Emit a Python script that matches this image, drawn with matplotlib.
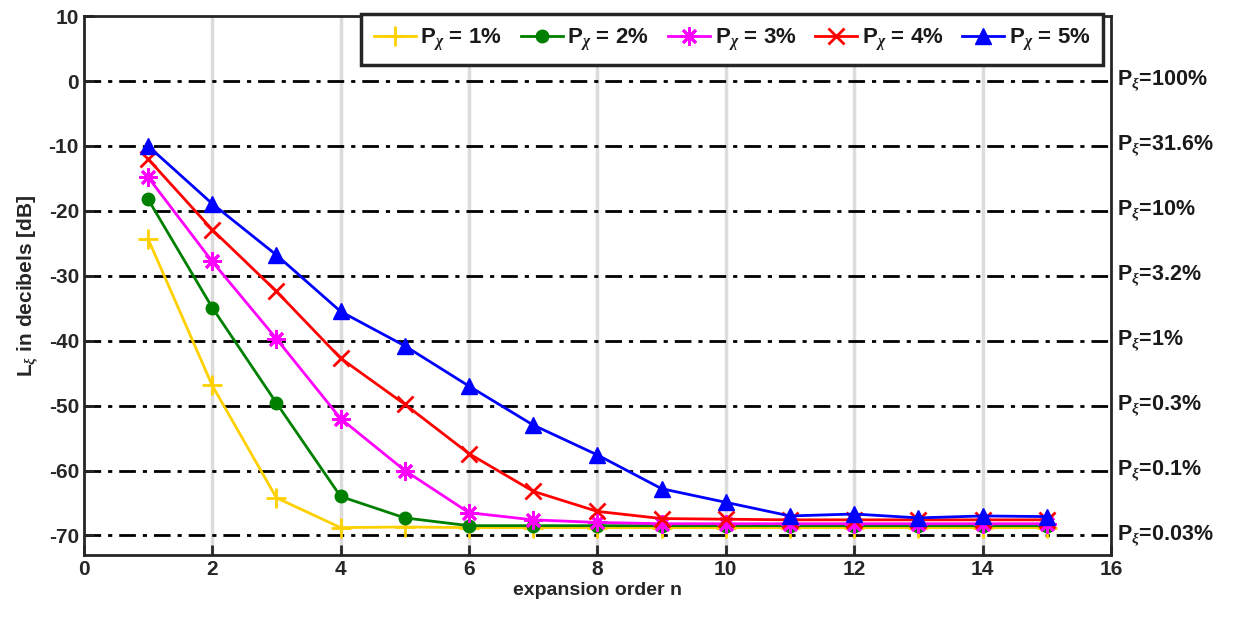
import matplotlib
matplotlib.use("Agg")
import matplotlib.pyplot as plt
import numpy as np

plt.rcParams['font.family'] = ['Liberation Sans', 'DejaVu Sans']
plt.rcParams['font.weight'] = 'bold'
plt.rcParams['axes.unicode_minus'] = False
plt.rcParams['mathtext.fontset'] = 'custom'
plt.rcParams['mathtext.rm'] = 'Liberation Sans:bold'
plt.rcParams['mathtext.it'] = 'Liberation Serif:italic'
plt.rcParams['text.color'] = '#1a1a1a'

n = list(range(1, 16))
p1 = [-24.3, -46.9, -64.2, -68.8, -68.7, -68.8, -68.8, -68.8, -68.8, -68.8, -68.8, -68.8, -68.8, -68.8, -68.8]
p2 = [-18.2, -34.9, -49.6, -64.0, -67.3, -68.5, -68.5, -68.5, -68.5, -68.5, -68.5, -68.5, -68.5, -68.5, -68.5]
p3 = [-14.8, -27.8, -39.7, -52.0, -60.0, -66.5, -67.6, -68.0, -68.2, -68.2, -68.2, -68.2, -68.2, -68.2, -68.2]
p4 = [-12.0, -22.9, -32.4, -42.7, -49.8, -57.4, -63.2, -66.3, -67.4, -67.5, -67.6, -67.6, -67.6, -67.6, -67.6]
p5 = [-10.0, -18.9, -26.8, -35.5, -40.8, -47.0, -53.0, -57.6, -62.8, -64.9, -67.0, -66.7, -67.3, -67.0, -67.1]

series = [p1, p2, p3, p4, p5]
labels = [r'P$_{\chi}$ = 1%', r'P$_{\chi}$ = 2%', r'P$_{\chi}$ = 3%', r'P$_{\chi}$ = 4%', r'P$_{\chi}$ = 5%']
colors = ['#FFD000', '#008000', '#FF00FF', '#FF0000', '#0000FF']
markers = ['+', 'o', (8, 2, 0), 'x', '^']
msizes = [14, 9, 13, 11, 11]

levels = [0, -10, -20, -30, -40, -50, -60, -70]
level_labels = ['100%', '31.6%', '10%', '3.2%', '1%', '0.3%', '0.1%', '0.03%']

fig = plt.figure(figsize=(12.33, 6.2), dpi=100)
ax = fig.add_axes([0.068, 0.105, 0.833, 0.869])

for x in range(2, 16, 2):
    ax.axvline(x, color='#dcdcdc', lw=2.5, zorder=0)
for y in levels:
    ax.axhline(y, color='black', lw=2, linestyle=(0, (6, 2.5, 1.5, 2.5)), zorder=1)

for s, lab, c, m, ms in zip(series, labels, colors, markers, msizes):
    mew = 2 if m in ('+', 'x') or isinstance(m, tuple) else 1
    ax.plot(n, s, color=c, marker=m, markersize=ms, lw=2, label=lab, mew=mew, zorder=3)

ax.set_xlim(0, 16)
ax.set_ylim(-73, 10)
ax.set_xticks(range(0, 17, 2))
ax.set_yticks(range(-70, 11, 10))
ax.tick_params(direction='in', length=7, width=2, labelsize=15, color='#262626', labelcolor='#262626')
for lbl in ax.get_xticklabels() + ax.get_yticklabels():
    lbl.set_fontweight('bold')
for sp in ax.spines.values():
    sp.set_linewidth(2)
    sp.set_color('#262626')

ax.set_xlabel('expansion order n', fontsize=14, fontweight='bold', labelpad=2, color='#262626')
ax.set_ylabel(r'L$_{\xi}$ in decibels [dB]', fontsize=15, fontweight='bold', labelpad=6, color='#262626')

for y, t in zip(levels, level_labels):
    ax.text(16.1, y, r'P$_{\xi}$=' + t, fontsize=15.5, fontweight='bold', va='center', ha='left',
            transform=ax.transData, clip_on=False)

leg = ax.legend(loc='upper right', ncol=5, frameon=True, fancybox=False,
                bbox_to_anchor=(0.992, 1.004), borderaxespad=0.0, columnspacing=0.85,
                handlelength=1.9, handletextpad=0.2, borderpad=0.55,
                prop={'weight': 'bold', 'size': 16})
leg.get_frame().set_edgecolor('#262626')
leg.get_frame().set_linewidth(2.5)
leg.get_frame().set_alpha(1)

fig.savefig('out.png', dpi=100)
